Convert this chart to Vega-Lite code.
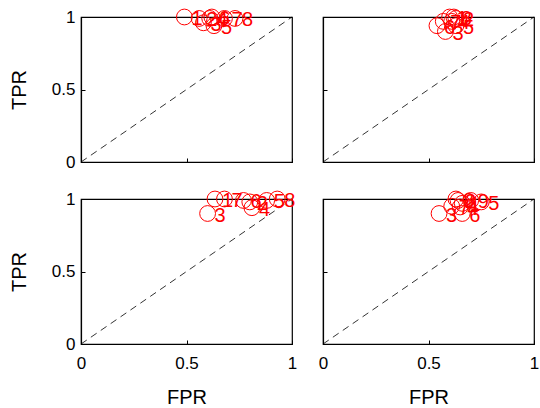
{
  "$schema": "https://vega.github.io/schema/vega-lite/v6.json",
  "background": "white",
  "padding": {"left": 8, "top": 6, "right": 0, "bottom": 0},
  "datasets": {
    "pts": [
      {"panel": "a", "n": 1, "fpr": 0.49, "tpr": 1.0},
      {"panel": "a", "n": 2, "fpr": 0.56, "tpr": 0.99},
      {"panel": "a", "n": 3, "fpr": 0.58, "tpr": 0.96},
      {"panel": "a", "n": 4, "fpr": 0.61, "tpr": 0.99},
      {"panel": "a", "n": 5, "fpr": 0.63, "tpr": 0.94},
      {"panel": "a", "n": 6, "fpr": 0.62, "tpr": 1.0},
      {"panel": "a", "n": 7, "fpr": 0.68, "tpr": 0.99},
      {"panel": "a", "n": 8, "fpr": 0.73, "tpr": 0.99},
      {"panel": "b", "n": 1, "fpr": 0.60, "tpr": 1.0},
      {"panel": "b", "n": 2, "fpr": 0.63, "tpr": 0.99},
      {"panel": "b", "n": 3, "fpr": 0.58, "tpr": 0.90},
      {"panel": "b", "n": 4, "fpr": 0.61, "tpr": 0.97},
      {"panel": "b", "n": 5, "fpr": 0.63, "tpr": 0.94},
      {"panel": "b", "n": 6, "fpr": 0.54, "tpr": 0.94},
      {"panel": "b", "n": 7, "fpr": 0.57, "tpr": 0.97},
      {"panel": "b", "n": 8, "fpr": 0.62, "tpr": 1.0},
      {"panel": "c", "n": 1, "fpr": 0.635, "tpr": 1.0},
      {"panel": "c", "n": 2, "fpr": 0.80, "tpr": 0.98},
      {"panel": "c", "n": 3, "fpr": 0.60, "tpr": 0.90},
      {"panel": "c", "n": 4, "fpr": 0.81, "tpr": 0.94},
      {"panel": "c", "n": 5, "fpr": 0.88, "tpr": 0.99},
      {"panel": "c", "n": 6, "fpr": 0.77, "tpr": 0.99},
      {"panel": "c", "n": 7, "fpr": 0.68, "tpr": 1.0},
      {"panel": "c", "n": 8, "fpr": 0.93, "tpr": 1.0},
      {"panel": "d", "n": 1, "fpr": 0.66, "tpr": 0.97},
      {"panel": "d", "n": 2, "fpr": 0.64, "tpr": 0.99},
      {"panel": "d", "n": 3, "fpr": 0.55, "tpr": 0.90},
      {"panel": "d", "n": 4, "fpr": 0.65, "tpr": 0.945},
      {"panel": "d", "n": 5, "fpr": 0.75, "tpr": 0.98},
      {"panel": "d", "n": 6, "fpr": 0.66, "tpr": 0.90},
      {"panel": "d", "n": 7, "fpr": 0.61, "tpr": 0.95},
      {"panel": "d", "n": 8, "fpr": 0.63, "tpr": 1.0},
      {"panel": "d", "n": 9, "fpr": 0.70, "tpr": 0.99}
    ]
  },
  "data": {"name": "pts"},
  "columns": 2,
  "bounds": "flush",
  "spacing": {"row": 37, "column": 31},
  "concat": [
    {
      "width": 211, "height": 145,
      "transform": [{"filter": "datum.panel == 'a'"}],
      "layer": [
        {"transform": [{"filter": "datum.n == 1"}],
         "mark": {"type": "rule", "color": "black", "strokeWidth": 0.8, "strokeDash": [7, 5]},
         "encoding": {"x": {"datum": 0, "type": "quantitative"}, "y": {"datum": 0, "type": "quantitative"}, "x2": {"datum": 1}, "y2": {"datum": 1}}},
        {"mark": {"type": "point", "shape": "circle", "filled": false, "color": "red", "size": 250, "strokeWidth": 1, "opacity": 1},
         "encoding": {
           "x": {"field": "fpr", "type": "quantitative", "scale": {"domain": [0, 1], "nice": false}, "axis": {"values": [0, 0.5, 1], "labels": false, "title": null}},
           "y": {"field": "tpr", "type": "quantitative", "scale": {"domain": [0, 1], "nice": false}, "axis": {"values": [0, 0.5, 1], "format": "~g", "title": "TPR"}}}},
        {"mark": {"type": "text", "align": "left", "baseline": "middle", "dx": 7, "dy": 2, "color": "red", "fontSize": 20, "font": "Liberation Sans"},
         "encoding": {"x": {"field": "fpr", "type": "quantitative"}, "y": {"field": "tpr", "type": "quantitative"}, "text": {"field": "n"}}}
      ]
    },
    {
      "width": 211, "height": 145,
      "transform": [{"filter": "datum.panel == 'b'"}],
      "layer": [
        {"transform": [{"filter": "datum.n == 1"}],
         "mark": {"type": "rule", "color": "black", "strokeWidth": 0.8, "strokeDash": [7, 5]},
         "encoding": {"x": {"datum": 0, "type": "quantitative"}, "y": {"datum": 0, "type": "quantitative"}, "x2": {"datum": 1}, "y2": {"datum": 1}}},
        {"mark": {"type": "point", "shape": "circle", "filled": false, "color": "red", "size": 250, "strokeWidth": 1, "opacity": 1},
         "encoding": {
           "x": {"field": "fpr", "type": "quantitative", "scale": {"domain": [0, 1], "nice": false}, "axis": {"values": [0, 0.5, 1], "labels": false, "title": null}},
           "y": {"field": "tpr", "type": "quantitative", "scale": {"domain": [0, 1], "nice": false}, "axis": {"values": [0, 0.5, 1], "labels": false, "title": null}}}},
        {"mark": {"type": "text", "align": "left", "baseline": "middle", "dx": 7, "dy": 2, "color": "red", "fontSize": 20, "font": "Liberation Sans"},
         "encoding": {"x": {"field": "fpr", "type": "quantitative"}, "y": {"field": "tpr", "type": "quantitative"}, "text": {"field": "n"}}}
      ]
    },
    {
      "width": 211, "height": 145,
      "transform": [{"filter": "datum.panel == 'c'"}],
      "layer": [
        {"transform": [{"filter": "datum.n == 1"}],
         "mark": {"type": "rule", "color": "black", "strokeWidth": 0.8, "strokeDash": [7, 5]},
         "encoding": {"x": {"datum": 0, "type": "quantitative"}, "y": {"datum": 0, "type": "quantitative"}, "x2": {"datum": 1}, "y2": {"datum": 1}}},
        {"mark": {"type": "point", "shape": "circle", "filled": false, "color": "red", "size": 250, "strokeWidth": 1, "opacity": 1},
         "encoding": {
           "x": {"field": "fpr", "type": "quantitative", "scale": {"domain": [0, 1], "nice": false}, "axis": {"values": [0, 0.5, 1], "format": "~g", "title": "FPR"}},
           "y": {"field": "tpr", "type": "quantitative", "scale": {"domain": [0, 1], "nice": false}, "axis": {"values": [0, 0.5, 1], "format": "~g", "title": "TPR"}}}},
        {"mark": {"type": "text", "align": "left", "baseline": "middle", "dx": 7, "dy": 2, "color": "red", "fontSize": 20, "font": "Liberation Sans"},
         "encoding": {"x": {"field": "fpr", "type": "quantitative"}, "y": {"field": "tpr", "type": "quantitative"}, "text": {"field": "n"}}}
      ]
    },
    {
      "width": 211, "height": 145,
      "transform": [{"filter": "datum.panel == 'd'"}],
      "layer": [
        {"transform": [{"filter": "datum.n == 1"}],
         "mark": {"type": "rule", "color": "black", "strokeWidth": 0.8, "strokeDash": [7, 5]},
         "encoding": {"x": {"datum": 0, "type": "quantitative"}, "y": {"datum": 0, "type": "quantitative"}, "x2": {"datum": 1}, "y2": {"datum": 1}}},
        {"mark": {"type": "point", "shape": "circle", "filled": false, "color": "red", "size": 250, "strokeWidth": 1, "opacity": 1},
         "encoding": {
           "x": {"field": "fpr", "type": "quantitative", "scale": {"domain": [0, 1], "nice": false}, "axis": {"values": [0, 0.5, 1], "format": "~g", "title": "FPR"}},
           "y": {"field": "tpr", "type": "quantitative", "scale": {"domain": [0, 1], "nice": false}, "axis": {"values": [0, 0.5, 1], "labels": false, "title": null}}}},
        {"mark": {"type": "text", "align": "left", "baseline": "middle", "dx": 7, "dy": 2, "color": "red", "fontSize": 20, "font": "Liberation Sans"},
         "encoding": {"x": {"field": "fpr", "type": "quantitative"}, "y": {"field": "tpr", "type": "quantitative"}, "text": {"field": "n"}}}
      ]
    }
  ],
  "config": {
    "view": {"stroke": "black", "strokeWidth": 1.2},
    "axis": {
      "grid": false,
      "domainColor": "black",
      "domainWidth": 1.2,
      "tickColor": "black",
      "tickSize": -4,
      "tickWidth": 1,
      "labelFont": "Liberation Sans",
      "labelFontSize": 17,
      "labelColor": "black",
      "labelPadding": 10,
      "titleFont": "Liberation Sans",
      "titleFontSize": 20,
      "titleFontWeight": "normal",
      "titleColor": "black"
    },
    "axisY": {"titlePadding": 22},
    "axisX": {"titlePadding": 16, "labelPadding": 15, "labelFlush": false}
  }
}
